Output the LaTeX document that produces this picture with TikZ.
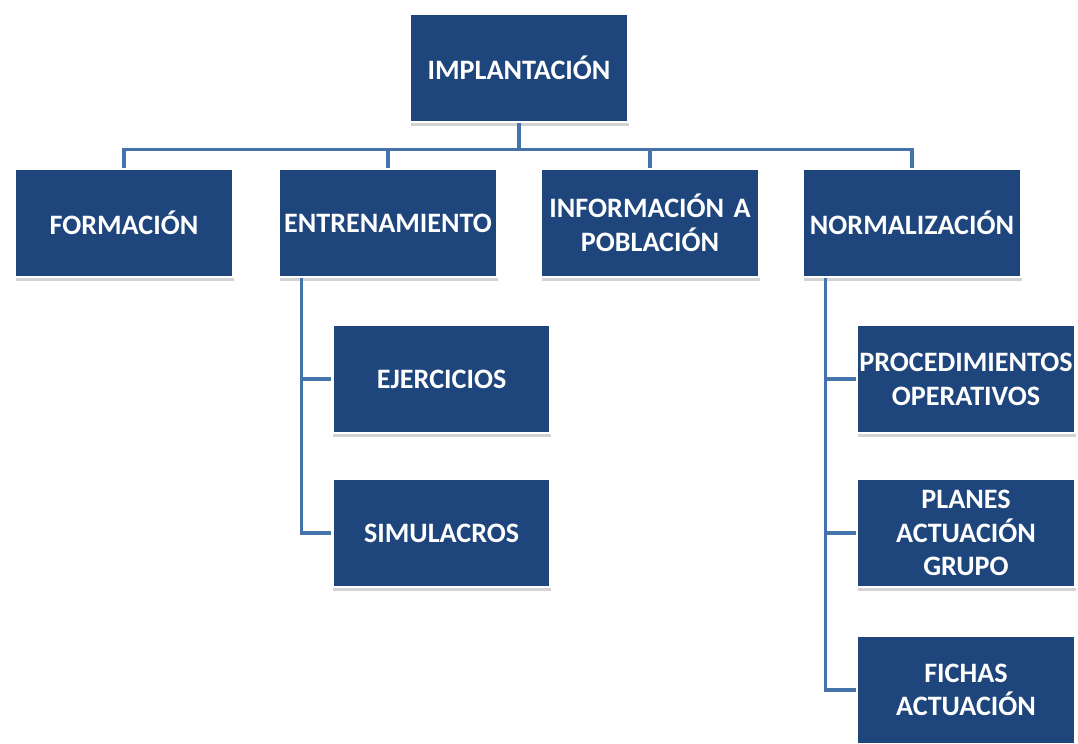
\documentclass[tikz,border=0pt]{standalone}
\usepackage{fontspec}
\setmainfont{Carlito}
\usetikzlibrary{shadows}
\definecolor{boxblue}{RGB}{31,70,124}
\definecolor{linkblue}{RGB}{70,114,172}

\begin{document}
\begin{tikzpicture}[
    box/.style={fill=boxblue,draw=white,line width=2pt,text=white,
      font=\fontsize{20}{24}\selectfont\bfseries,align=center,inner sep=0pt,
      text width=5.45cm,minimum height=2.7cm,
      drop shadow={shadow xshift=0.5pt,shadow yshift=-2.5pt,opacity=0.35}},
    link/.style={draw=linkblue,line width=2.2pt}]
        \useasboundingbox (0,0) rectangle (26.95,-18.575);
        \node[box] (impl) at (12.975,-1.7) {IMPLANTACIÓN};
        \foreach \n/\x/\t in {form/3.1/{FORMACIÓN},entr/9.7/{ENTRENAMIENTO},info/16.25/{INFORMACIÓN A\\POBLACIÓN},norm/22.8/{NORMALIZACIÓN}} % edit here for the first row
        \node[box] (\n) at (\x,-5.575) {\t};
        \foreach \n/\y/\t in {ejer/-9.475/{EJERCICIOS},simu/-13.325/{SIMULACROS}} % edit here for the training boxes
        \node[box] (\n) at (11.04,\y) {\t};
        \foreach \n/\y/\t in {proc/-9.475/{PROCEDIMIENTOS\\OPERATIVOS},plan/-13.325/{PLANES\\ACTUACIÓN\\GRUPO},fich/-17.25/{FICHAS\\ACTUACIÓN}} % edit here for the norm boxes
        \node[box] (\n) at (24.15,\y) {\t};
        \foreach \c in {form,entr,info,norm}
        \draw[link] (impl.south) -- ++(0,-0.65) -| (\c.north);
        \coordinate (entrtrunk) at ([xshift=0.6cm]entr.south west);
        \coordinate (normtrunk) at ([xshift=0.6cm]norm.south west);
        \foreach \c in {ejer,simu}
        \draw[link] (entrtrunk) |- (\c.west);
        \foreach \c in {proc,plan,fich}
        \draw[link] (normtrunk) |- (\c.west);
\end{tikzpicture}
\end{document}
